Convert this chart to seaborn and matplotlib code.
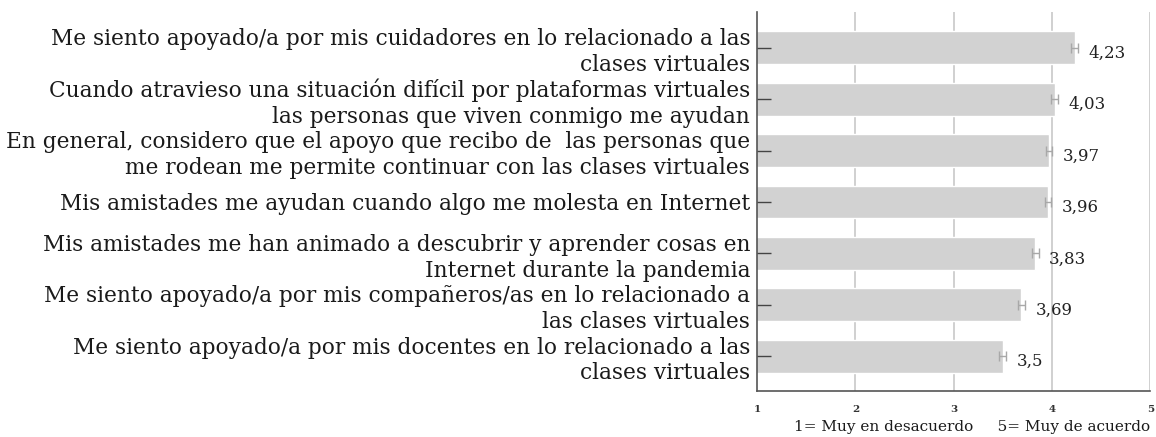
import numpy as np
import pandas as pd
import seaborn as sns
import matplotlib.pyplot as plt

# ---- datos ----
items = [
    "Me siento apoyado/a por mis cuidadores en lo relacionado a las\nclases virtuales",
    "Cuando atravieso una situación difícil por plataformas virtuales\nlas personas que viven conmigo me ayudan",
    "En general, considero que el apoyo que recibo de  las personas que\nme rodean me permite continuar con las clases virtuales",
    "Mis amistades me ayudan cuando algo me molesta en Internet",
    "Mis amistades me han animado a descubrir y aprender cosas en\nInternet durante la pandemia",
    "Me siento apoyado/a por mis compañeros/as en lo relacionado a\nlas clases virtuales",
    "Me siento apoyado/a por mis docentes en lo relacionado a las\nclases virtuales",
]
medias = [4.23, 4.03, 3.97, 3.96, 3.83, 3.69, 3.50]
etiquetas = ["4,23", "4,03", "3,97", "3,96", "3,83", "3,69", "3,5"]
error = [0.035, 0.035, 0.035, 0.035, 0.035, 0.035, 0.035]
x_ticks = [1, 2, 3, 4, 5]

df = pd.DataFrame({"item": items, "media": medias})

sns.set_style("white")
plt.rcParams['font.family'] = ['DejaVu Serif']

fig = plt.figure(figsize=(11.56, 4.37), dpi=100)
ax = fig.add_axes([0.655, 0.105, 0.340, 0.868])

# rejilla vertical detrás de las barras
for xv in x_ticks[1:]:
    ax.axvline(xv, color="#c8c8c8", linewidth=1.2, zorder=0)

sns.barplot(data=df, x="media", y="item", orient="h", color="#d2d2d2",
            width=0.64, errorbar=None, ax=ax, zorder=2)
ax.errorbar(df["media"], np.arange(len(items)), xerr=error, fmt="none",
            ecolor="#a8a8a8", elinewidth=1, capsize=3.5, capthick=1, zorder=3)

for i, (v, t) in enumerate(zip(medias, etiquetas)):
    ax.annotate(t, (v, i), xytext=(10, -4), textcoords="offset points",
                ha="left", va="center", fontsize=12, color="#222222")

ax.set_xlim(1, 5)
ax.set_ylim(6.68, -0.7)
ax.set_xticks(x_ticks)
ax.set_xticklabels([str(t) for t in x_ticks], fontsize=7.5, fontweight="bold", color="#333333")
ax.set_axisbelow(False)

ax.tick_params(axis="y", left=True, direction="in", length=10, width=1, color="#444444",
               pad=5, labelsize=15.6, labelcolor="#1a1a1a")
ax.tick_params(axis="x", length=0, pad=10)
for lbl in ax.get_yticklabels():
    lbl.set_ha("right")
    lbl.set_multialignment("right")
    lbl.set_linespacing(1.22)

for s in ["top", "right"]:
    ax.spines[s].set_visible(False)
ax.spines["left"].set_color("#555555")
ax.spines["left"].set_linewidth(1.2)
ax.spines["bottom"].set_color("#555555")
ax.spines["bottom"].set_linewidth(1.2)

ax.set_ylabel("")
ax.set_xlabel("1= Muy en desacuerdo     5= Muy de acuerdo", fontsize=11,
              loc="right", labelpad=4, color="#1a1a1a")

fig.savefig("out.png", dpi=100)
